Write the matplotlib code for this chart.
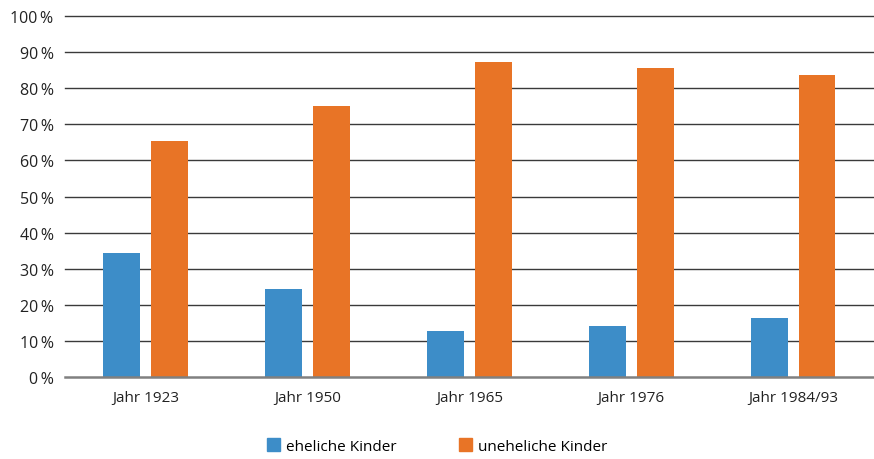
import matplotlib
matplotlib.use("Agg")
import matplotlib.pyplot as plt
import numpy as np
from matplotlib.patches import Patch

categories = ["Jahr 1923", "Jahr 1950", "Jahr 1965", "Jahr 1976", "Jahr 1984/93"]
eheliche = [34.4, 24.3, 12.7, 14.1, 16.3]
uneheliche = [65.5, 75.1, 87.3, 85.6, 83.7]
series_labels = ["eheliche Kinder", "uneheliche Kinder"]
yticks = [0, 10, 20, 30, 40, 50, 60, 70, 80, 90, 100]

blue = "#3d8dc8"
orange = "#e87426"

plt.rcParams["font.family"] = ["Open Sans", "DejaVu Sans"]

fig = plt.figure(figsize=(8.74, 4.6), dpi=100)
ax = fig.add_axes([0.074, 0.178, 0.926, 0.785])

x = np.arange(len(categories))
width = 0.228
offset = 0.148
ax.bar(x - offset, eheliche, width, color=blue, zorder=3)
ax.bar(x + offset, uneheliche, width, color=orange, zorder=3)

ax.set_xlim(-0.5, len(categories) - 0.5)
ax.set_ylim(0, 100)
ax.set_yticks(yticks)
ax.set_yticklabels([f"{v}\u2009%" for v in yticks], fontsize=11.5, color="#222222")
ax.set_xticks(x)
ax.set_xticklabels(categories, fontsize=11, color="#222222")

for v in yticks:
    ax.axhline(v, color="#3a3a3a" if v else "#808080", lw=1.0 if v else 1.8,
               zorder=1 if v else 4, clip_on=False)

for side in ["top", "right", "left", "bottom"]:
    ax.spines[side].set_visible(False)
ax.tick_params(axis="both", length=0)
ax.tick_params(axis="y", pad=8)
ax.tick_params(axis="x", pad=9)

handles = [Patch(color=blue), Patch(color=orange)]
fig.legend(handles, series_labels, loc="center", bbox_to_anchor=(0.5, 0.028),
           ncol=2, frameon=False, fontsize=11, handlelength=0.85, handleheight=0.85,
           handletextpad=0.4, columnspacing=4.1)

fig.savefig("out.png", dpi=100)
